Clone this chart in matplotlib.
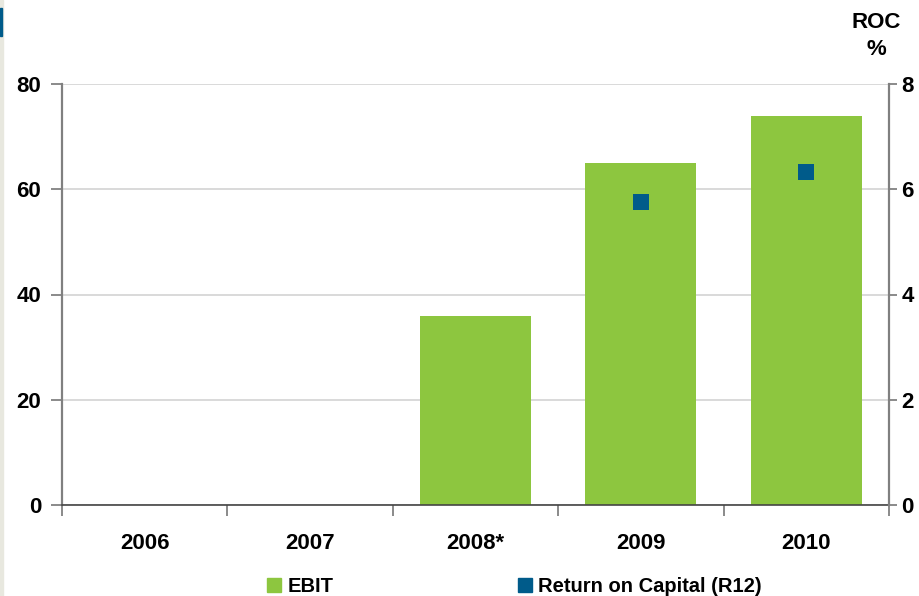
import matplotlib.pyplot as plt
from matplotlib.patches import Patch, Rectangle
import numpy as np

plt.rcParams['font.family'] = ['Liberation Sans', 'DejaVu Sans']
plt.rcParams['font.weight'] = 'bold'

years = ["2006", "2007", "2008*", "2009", "2010"]
ebit = [0, 0, 36, 65, 74]
roc_years = ["2009", "2010"]
roc = [5.75, 6.32]

green = "#8dc63f"
blue = "#005b8a"

fig = plt.figure(figsize=(9.2, 5.96), dpi=100)
ax = fig.add_axes([62 / 920, 91 / 596, 827 / 920, 421 / 596])

x = np.arange(len(years))
ax.bar(x, ebit, width=0.67, color=green, zorder=2)

ax.set_xlim(-0.5, len(years) - 0.5)
ax.set_ylim(0, 80)
ax.set_yticks([0, 20, 40, 60, 80])
ax.yaxis.grid(True, color="#d3d3d3", linewidth=1.2, zorder=0)
ax.set_axisbelow(True)

# category labels between boundary ticks
ax.set_xticks(x)
ax.set_xticklabels(years, fontsize=16, fontweight='bold')
ax.tick_params(axis='x', which='major', length=0, pad=20)
ax.set_xticks(np.arange(-0.5, len(years), 1), minor=True)
ax.tick_params(axis='x', which='minor', length=8, direction='out', color="#777777", width=1.2)
ax.tick_params(axis='y', length=8, direction='out', color="#777777", width=1.2,
               labelsize=16, pad=7)
for lbl in ax.get_yticklabels():
    lbl.set_fontweight('bold')

ax.spines['top'].set_visible(False)
ax.spines['right'].set_visible(False)
ax.spines['left'].set_color("#808080")
ax.spines['left'].set_linewidth(1.6)
ax.spines['bottom'].set_color("#444444")
ax.spines['bottom'].set_linewidth(1.2)

# return on capital on the secondary axis
ax2 = ax.twinx()
ax2.set_ylim(0, 8)
ax2.set_yticks([0, 2, 4, 6, 8])
roc_x = [years.index(y) for y in roc_years]
ax2.scatter(roc_x, roc, marker='s', s=125, color=blue, zorder=3, linewidths=0)
ax2.tick_params(axis='y', length=6, direction='out', color="#777777", width=1.2,
                labelsize=16, pad=3)
for lbl in ax2.get_yticklabels():
    lbl.set_fontweight('bold')
for s in ['top', 'left', 'bottom']:
    ax2.spines[s].set_visible(False)
ax2.spines['right'].set_color("#808080")
ax2.spines['right'].set_linewidth(1.6)

fig.text(876 / 920, 1 - 36 / 596, "ROC\n%", ha='center', va='center',
         fontsize=16, fontweight='bold', linespacing=1.4)

handles = [Patch(color=green), Patch(color=blue)]
fig.legend(handles, ["EBIT", "Return on Capital (R12)"], loc='lower left',
           bbox_to_anchor=(249 / 920, -0.031), ncol=2, frameon=False,
           fontsize=14.5, handlelength=0.7, handleheight=0.7,
           handletextpad=0.3, columnspacing=9.15)

# slide edge strip
fig.patches.append(Rectangle((0, 0), 3 / 920, 1, transform=fig.transFigure,
                             color="#e8e8df", zorder=0))
fig.patches.append(Rectangle((0, 1 - 36 / 596), 2 / 920, 28 / 596,
                             transform=fig.transFigure, color=blue, zorder=1))

fig.savefig("out.png", dpi=100)
